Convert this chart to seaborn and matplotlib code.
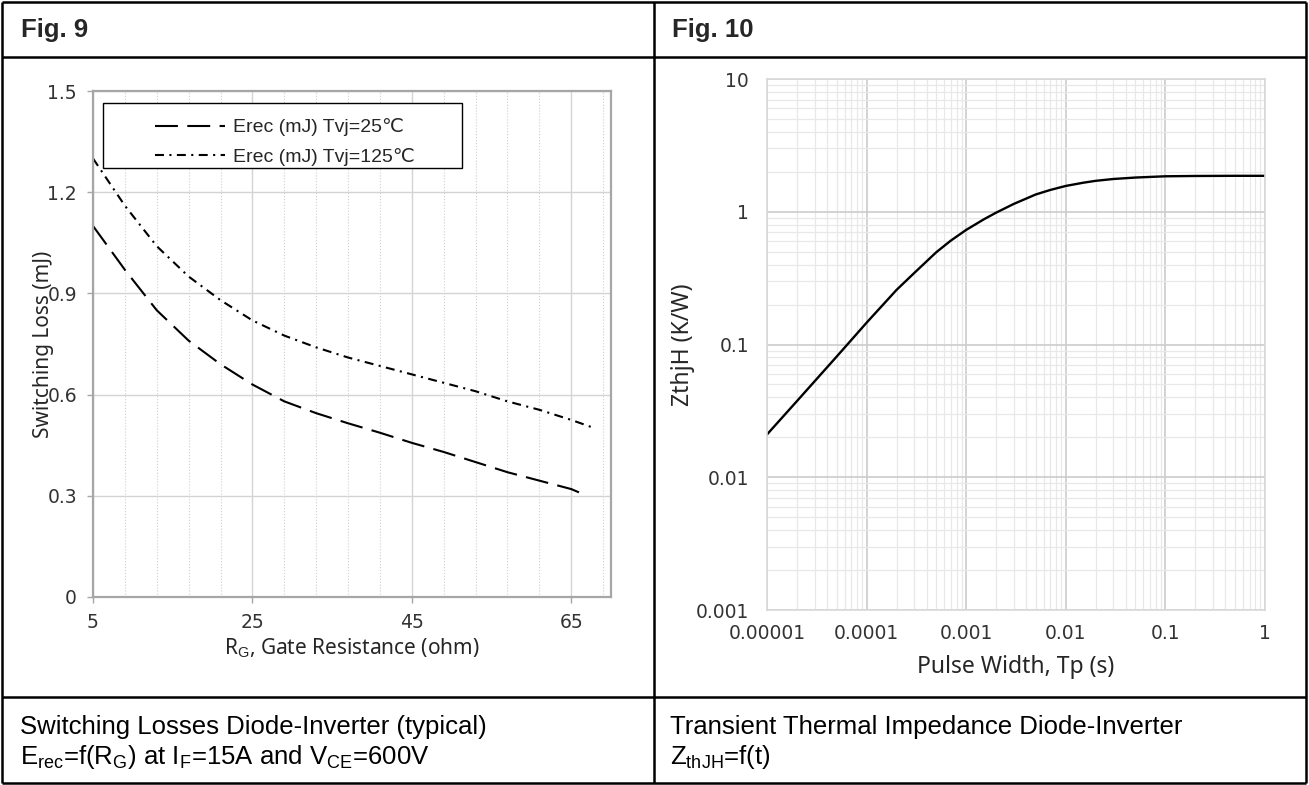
import numpy as np
import pandas as pd
import matplotlib.pyplot as plt
import seaborn as sns
from matplotlib.patches import Rectangle
from matplotlib.ticker import FixedLocator, LogLocator, NullFormatter

# Fig. 9 : switching losses vs gate resistance
rg_25 = [5, 9, 13, 17, 21, 25, 29, 33, 37, 41, 45, 49, 53, 57, 61, 65, 67]
erec_25 = [1.10, 0.97, 0.85, 0.76, 0.69, 0.63, 0.58, 0.545, 0.515, 0.487, 0.457, 0.43, 0.40, 0.37, 0.345, 0.32, 0.30]
rg_125 = [5, 9, 13, 17, 21, 25, 29, 33, 37, 41, 45, 49, 53, 57, 61, 65, 68]
erec_125 = [1.30, 1.16, 1.04, 0.95, 0.88, 0.82, 0.775, 0.74, 0.71, 0.685, 0.66, 0.635, 0.61, 0.58, 0.555, 0.525, 0.50]
label_25 = "Erec (mJ) Tvj=25℃"
label_125 = "Erec (mJ) Tvj=125℃"

# Fig. 10 : transient thermal impedance
tp = [1e-5, 2e-5, 5e-5, 1e-4, 2e-4, 3e-4, 5e-4, 7e-4, 1e-3, 1.5e-3, 2e-3, 3e-3,
      5e-3, 7e-3, 1e-2, 1.5e-2, 2e-2, 3e-2, 5e-2, 1e-1, 2e-1, 5e-1, 1.0]
zth = [0.021, 0.0375, 0.081, 0.146, 0.258, 0.345, 0.495, 0.606, 0.73, 0.876, 0.985, 1.145,
       1.35, 1.46, 1.565, 1.655, 1.71, 1.765, 1.81, 1.85, 1.86, 1.865, 1.865]

rg_ticks = [5, 25, 45, 65]
e_ticks = [0, 0.3, 0.6, 0.9, 1.2, 1.5]
e_ticklabels = ['0', '0.3', '0.6', '0.9', '1.2', '1.5']
tp_ticks = [1e-5, 1e-4, 1e-3, 1e-2, 1e-1, 1]
tp_ticklabels = ['0.00001', '0.0001', '0.001', '0.01', '0.1', '1']
z_ticks = [1e-3, 1e-2, 1e-1, 1, 10]
z_ticklabels = ['0.001', '0.01', '0.1', '1', '10']

sns.set_theme(style='white')
plt.rcParams['font.family'] = ['Liberation Sans', 'DejaVu Sans']
plt.rcParams['mathtext.fontset'] = 'custom'
plt.rcParams['mathtext.rm'] = 'Liberation Sans'

W, H = 1309, 785
fig = plt.figure(figsize=(W / 100, H / 100), dpi=100)


def px_axes(l, t, r, b, **kw):
    return fig.add_axes([l / W, 1 - b / H, (r - l) / W, (b - t) / H], **kw)


# table frame
frame = px_axes(0, 0, W, H, zorder=-1)
frame.set_xlim(0, W)
frame.set_ylim(H, 0)
frame.axis('off')
lw_tab = 1.8
frame.hlines([2, 57, 697, 783], 2, 1306, color='black', lw=lw_tab)
frame.vlines([2, 654, 1306], 2, 783, color='black', lw=lw_tab)
frame.text(21, 37, 'Fig. 9', fontsize=18.5, fontweight='bold', va='baseline')
frame.text(672, 37, 'Fig. 10', fontsize=18.5, fontweight='bold', va='baseline')
cap_kw = dict(fontsize=18.5, va='baseline', color='black')
frame.text(20, 734, 'Switching Losses Diode-Inverter (typical)', **cap_kw)
frame.text(20, 764, r'E$_{\rm rec}$=f(R$_{\rm G}$) at I$_{\rm F}$=15A and V$_{\rm CE}$=600V', **cap_kw)
frame.text(670, 734, 'Transient Thermal Impedance Diode-Inverter', **cap_kw)
frame.text(670, 764, r'Z$_{\rm thJH}$=f(t)', **cap_kw)

# ---------- Fig. 9 ----------
ax1 = px_axes(93, 91, 611, 597)
sns.lineplot(x=rg_25, y=erec_25, ax=ax1, color='black', lw=1.5,
             linestyle=(0, (11, 4.5)), label=label_25)
sns.lineplot(x=rg_125, y=erec_125, ax=ax1, color='black', lw=1.5,
             linestyle=(0, (4.3, 2.6, 1, 2.6)), label=label_125)
ax1.set_xlim(5, 70)
ax1.set_ylim(0, 1.5)
ax1.set_xticks(rg_ticks)
ax1.set_yticks(e_ticks)
ax1.set_yticklabels(e_ticklabels)
ax1.xaxis.set_minor_locator(FixedLocator(np.arange(9, 70, 4)))
ax1.grid(which='major', color='#d4d4d4', lw=1.0)
ax1.grid(which='minor', axis='x', color='#cfcfcf', lw=0.8, ls=':')
ax1.tick_params(which='major', bottom=True, left=True, length=4.5, width=1,
                color='#a6a6a6', labelsize=13.5, labelcolor='#333333', pad=7)
ax1.tick_params(which='minor', length=0)
for sp in ax1.spines.values():
    sp.set_color('#a6a6a6')
    sp.set_linewidth(1.6)
ax1.set_xlabel(r'R$_{\rm G}$, Gate Resistance (ohm)', fontfamily='Noto Sans', fontsize=15)
ax1.set_ylabel('Switching Loss (mJ)', fontfamily='Noto Sans', fontsize=15)
ax1.xaxis.set_label_coords(0.5, -0.078)
ax1.yaxis.set_label_coords(-0.075, 0.5)
ax1.add_patch(Rectangle((0.019, 0.848), 0.693, 0.128, transform=ax1.transAxes,
                        facecolor='white', edgecolor='black', lw=1, zorder=3.5))
ax1.legend(loc='upper left', bbox_to_anchor=(0.12, 0.946), frameon=False,
           borderpad=0, borderaxespad=0, handlelength=3.6, handletextpad=0.4,
           labelspacing=0.6, prop={'family': ['Liberation Sans', 'DejaVu Sans'], 'size': 14})

# ---------- Fig. 10 ----------
ax2 = px_axes(767, 79, 1265, 610)
ax2.set_xscale('log')
ax2.set_yscale('log')
sns.lineplot(x=tp, y=zth, ax=ax2, color='black', lw=1.7)
ax2.set_xlim(1e-5, 1)
ax2.set_ylim(1e-3, 10)
ax2.xaxis.set_major_locator(FixedLocator(tp_ticks))
ax2.set_xticklabels(tp_ticklabels)
ax2.yaxis.set_major_locator(FixedLocator(z_ticks))
ax2.set_yticklabels(z_ticklabels)
for axis in (ax2.xaxis, ax2.yaxis):
    axis.set_minor_locator(LogLocator(base=10, subs=np.arange(2, 10), numticks=50))
    axis.set_minor_formatter(NullFormatter())
ax2.grid(which='major', color='#cccccc', lw=1.2)
ax2.grid(which='minor', color='#e8e8e8', lw=0.9)
ax2.tick_params(which='both', length=0, labelsize=13.5, labelcolor='#333333')
ax2.tick_params(axis='y', pad=13)
ax2.tick_params(axis='x', pad=10)
for sp in ax2.spines.values():
    sp.set_color('#d9d9d9')
    sp.set_linewidth(1.2)
ax2.set_xlabel('Pulse Width, Tp (s)', fontfamily='Noto Sans', fontsize=16.5)
ax2.set_ylabel('ZthjH (K/W)', fontfamily='Noto Sans', fontsize=16.5)
ax2.xaxis.set_label_coords(0.5, -0.084)
ax2.yaxis.set_label_coords(-0.145, 0.5)

for ax in (ax1, ax2):
    for t in ax.get_xticklabels() + ax.get_yticklabels():
        t.set_fontfamily('DejaVu Sans')

fig.savefig('out.png', dpi=100)
